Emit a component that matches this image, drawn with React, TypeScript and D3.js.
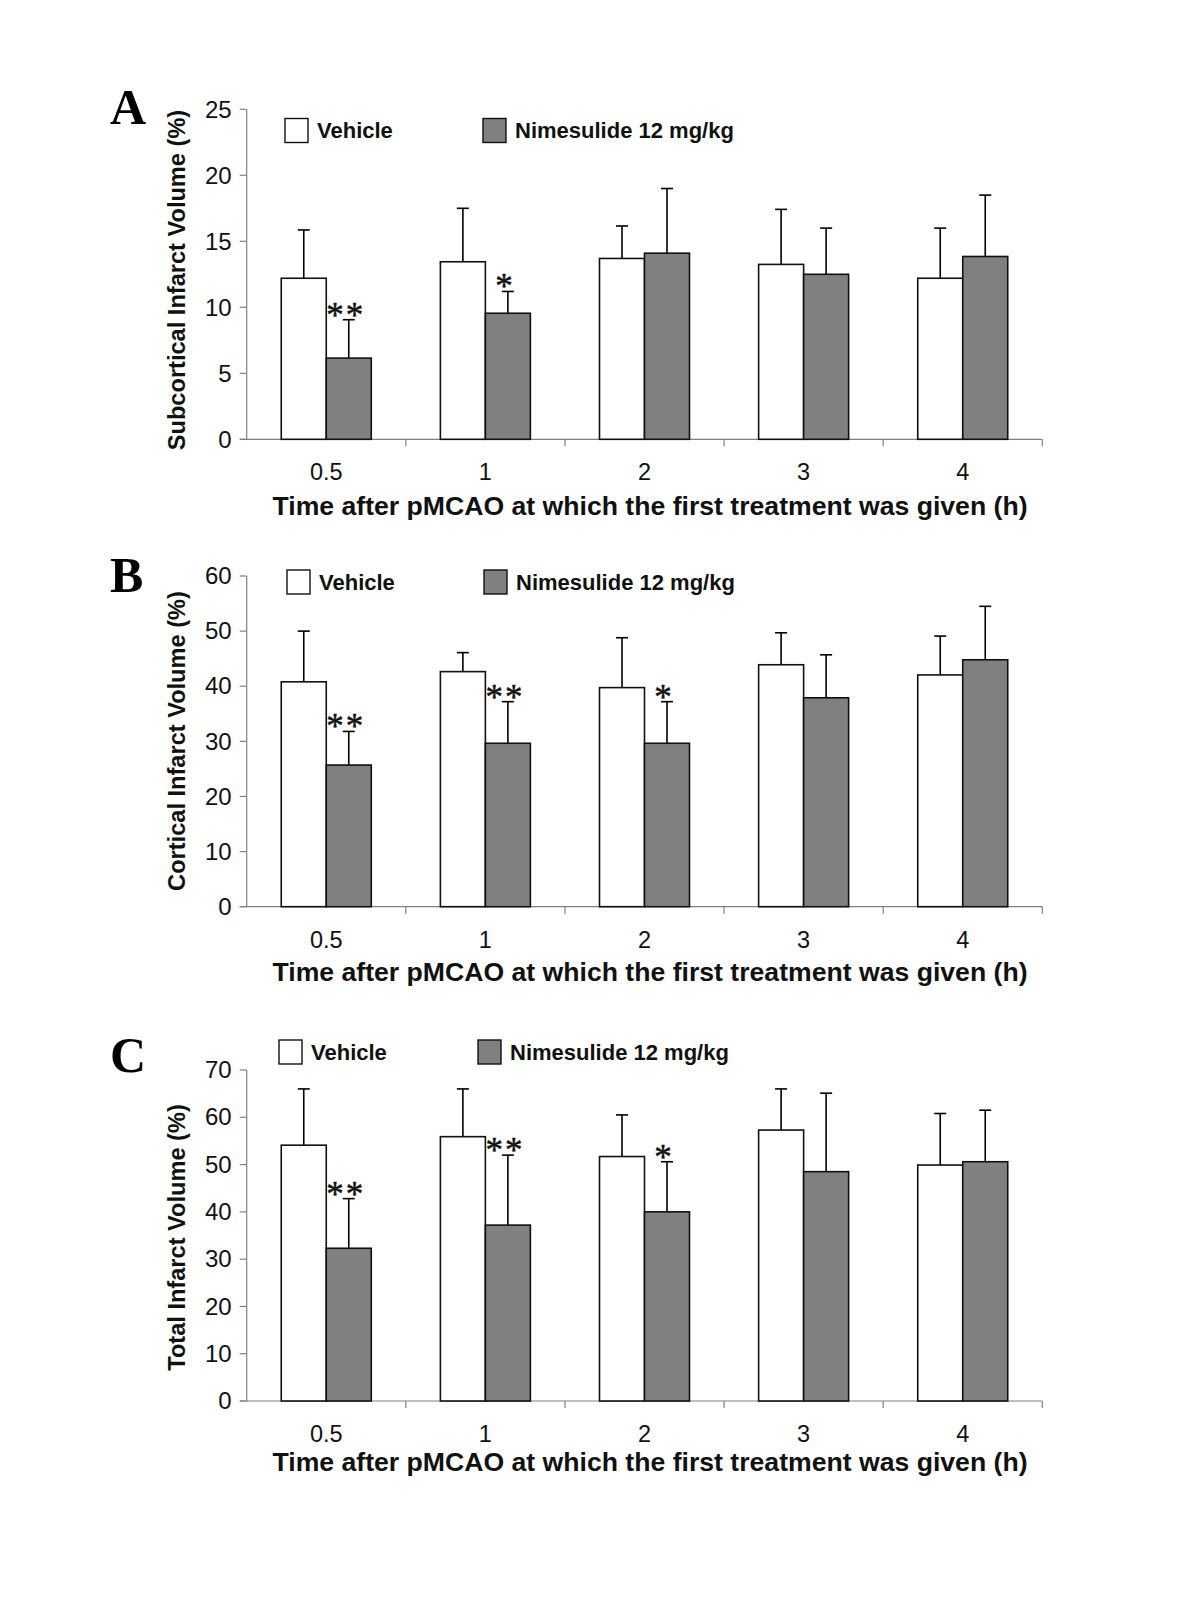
import React from 'react';
import * as d3 from 'd3';

const categories = ['0.5', '1', '2', '3', '4'];
const seriesNames = ['Vehicle', 'Nimesulide 12 mg/kg'];

// Panel A: subcortical
const subVehicle = [12.2, 13.45, 13.7, 13.25, 12.2];
const subVehicleErr = [3.66, 4.05, 2.46, 4.17, 3.8];
const subNim = [6.15, 9.55, 14.1, 12.5, 13.85];
const subNimErr = [2.91, 1.65, 4.9, 3.5, 4.65];
const subSig = ['**', '*', '', '', ''];
const subTicks = [0, 5, 10, 15, 20, 25];

// Panel B: cortical
const corVehicle = [40.8, 42.65, 39.75, 43.9, 42.05];
const corVehicleErr = [9.2, 3.45, 9.05, 5.8, 7.05];
const corNim = [25.7, 29.65, 29.65, 37.9, 44.8];
const corNimErr = [6.1, 7.55, 7.55, 7.8, 9.7];
const corSig = ['**', '**', '*', '', ''];
const corTicks = [0, 10, 20, 30, 40, 50, 60];

// Panel C: total
const totVehicle = [54.1, 55.9, 51.7, 57.3, 49.9];
const totVehicleErr = [11.9, 10.1, 8.8, 8.7, 10.9];
const totNim = [32.3, 37.2, 40.0, 48.5, 50.6];
const totNimErr = [10.5, 14.8, 10.6, 16.6, 10.9];
const totSig = ['**', '**', '*', '', ''];
const totTicks = [0, 10, 20, 30, 40, 50, 60, 70];

const xTitle = 'Time after pMCAO at which the first treatment was given (h)';

const SANS = 'Arial, "Liberation Sans", Helvetica, sans-serif';
const SERIF = '"Times New Roman", "Liberation Serif", serif';
const AXIS = '#808080';
const GRAY = '#808080';

type PanelProps = {
  letter: string;
  yTitle: string;
  vehicle: number[];
  vehicleErr: number[];
  nim: number[];
  nimErr: number[];
  sig: string[];
  ticks: number[];
  top: number;
  bottom: number;
  legendX: [number, number];
  legendY: number;
  letterY: number;
  yTitleY: number;
  xTitleOffset: number;
};

const LEFT = 246.7;
const RIGHT = 1042.3;
const BAR_W = 45;

function Panel(p: PanelProps) {
  const x = d3.scaleBand<string>().domain(categories).range([LEFT, RIGHT]).padding(0);
  const bw = x.bandwidth();
  const inner = d3
    .scaleBand<string>()
    .domain(seriesNames)
    .range([bw / 2 - BAR_W, bw / 2 + BAR_W])
    .padding(0);
  const y = d3
    .scaleLinear()
    .domain([0, p.ticks[p.ticks.length - 1]])
    .range([p.bottom, p.top]);

  const series = [
    { name: seriesNames[0], vals: p.vehicle, errs: p.vehicleErr, fill: '#ffffff' },
    { name: seriesNames[1], vals: p.nim, errs: p.nimErr, fill: GRAY },
  ];

  const boundaries = categories.map((c) => (x(c) as number) + bw);

  return (
    <g>
      <text x={110} y={p.letterY} fontFamily={SERIF} fontWeight="bold" fontSize={50}>
        {p.letter}
      </text>
      {/* y axis */}
      <line x1={LEFT} x2={LEFT} y1={p.top} y2={p.bottom} stroke={AXIS} strokeWidth={1.2} />
      {p.ticks.map((t) => (
        <g key={t}>
          <line x1={LEFT - 7} x2={LEFT} y1={y(t)} y2={y(t)} stroke={AXIS} strokeWidth={1.2} />
          <text
            x={LEFT - 15}
            y={y(t) + 8.2}
            textAnchor="end"
            fontFamily={SANS}
            fontSize={24}
            fill="#111"
          >
            {t}
          </text>
        </g>
      ))}
      <text
        transform={`translate(185, ${p.yTitleY}) rotate(-90)`}
        textAnchor="middle"
        fontFamily={SANS}
        fontWeight="bold"
        fontSize={23.6}
        fill="#111"
      >
        {p.yTitle}
      </text>
      {/* x axis */}
      <line x1={LEFT - 7} x2={RIGHT} y1={p.bottom} y2={p.bottom} stroke={AXIS} strokeWidth={1.2} />
      {boundaries.map((b, i) => (
        <line key={i} x1={b} x2={b} y1={p.bottom} y2={p.bottom + 7} stroke={AXIS} strokeWidth={1.2} />
      ))}
      {categories.map((c) => (
        <text
          key={c}
          x={(x(c) as number) + bw / 2}
          y={p.bottom + 41}
          textAnchor="middle"
          fontFamily={SANS}
          fontSize={23.5}
          fill="#111"
        >
          {c}
        </text>
      ))}
      <text
        x={650}
        y={p.bottom + p.xTitleOffset}
        textAnchor="middle"
        fontFamily={SANS}
        fontWeight="bold"
        fontSize={25}
        textLength={755}
        lengthAdjust="spacingAndGlyphs"
        fill="#111"
      >
        {xTitle}
      </text>
      {/* bars */}
      {series.map((s) =>
        categories.map((c, i) => {
          const bx = (x(c) as number) + (inner(s.name) as number);
          const top = y(s.vals[i]);
          const etop = y(s.vals[i] + s.errs[i]);
          const cx = bx + BAR_W / 2;
          return (
            <g key={s.name + c}>
              <line x1={cx} x2={cx} y1={top} y2={etop} stroke="#000" strokeWidth={1.6} />
              <line x1={cx - 6} x2={cx + 6} y1={etop} y2={etop} stroke="#000" strokeWidth={1.6} />
              <rect
                x={bx}
                y={top}
                width={BAR_W}
                height={p.bottom - top}
                fill={s.fill}
                stroke="#111"
                strokeWidth={1.6}
              />
            </g>
          );
        })
      )}
      {/* significance */}
      {categories.map((c, i) => {
        if (!p.sig[i]) return null;
        const bx = (x(c) as number) + (inner(seriesNames[1]) as number) + BAR_W / 2;
        const etop = y(p.nim[i] + p.nimErr[i]);
        return (
          <text
            key={'s' + c}
            x={bx - 3}
            y={etop + 7}
            textAnchor="middle"
            fontFamily={SERIF}
            fontSize={35}
            letterSpacing={2}
            stroke="#111"
            strokeWidth={0.5}
            fill="#111"
          >
            {p.sig[i]}
          </text>
        );
      })}
      {/* legend */}
      {seriesNames.map((n, i) => (
        <g key={n}>
          <rect
            x={p.legendX[i]}
            y={p.legendY - 12}
            width={23}
            height={24}
            fill={i === 0 ? '#ffffff' : GRAY}
            stroke="#111"
            strokeWidth={1.4}
          />
          <text
            x={p.legendX[i] + 32}
            y={p.legendY + 7.8}
            fontFamily={SANS}
            fontWeight="bold"
            fontSize={22}
            fill="#111"
          >
            {n}
          </text>
        </g>
      ))}
    </g>
  );
}

export default function App() {
  return (
    <svg
      width={1200}
      height={1600}
      style={{ position: 'absolute', left: 0, top: 0, background: '#fff' }}
    >
      <rect x={0} y={0} width={1200} height={1600} fill="#fff" />
      <Panel
        letter="A"
        yTitle="Subcortical Infarct Volume (%)"
        vehicle={subVehicle}
        vehicleErr={subVehicleErr}
        nim={subNim}
        nimErr={subNimErr}
        sig={subSig}
        ticks={subTicks}
        top={109.3}
        bottom={439.3}
        legendX={[285, 483]}
        legendY={130.5}
        letterY={124}
        yTitleY={280}
        xTitleOffset={76}
      />
      <Panel
        letter="B"
        yTitle="Cortical Infarct Volume (%)"
        vehicle={corVehicle}
        vehicleErr={corVehicleErr}
        nim={corNim}
        nimErr={corNimErr}
        sig={corSig}
        ticks={corTicks}
        top={576}
        bottom={906.7}
        legendX={[287, 484]}
        legendY={582}
        letterY={592}
        yTitleY={741}
        xTitleOffset={74}
      />
      <Panel
        letter="C"
        yTitle="Total Infarct Volume (%)"
        vehicle={totVehicle}
        vehicleErr={totVehicleErr}
        nim={totNim}
        nimErr={totNimErr}
        sig={totSig}
        ticks={totTicks}
        top={1070}
        bottom={1401}
        legendX={[279, 478]}
        legendY={1052}
        letterY={1072}
        yTitleY={1237.5}
        xTitleOffset={69.5}
      />
    </svg>
  );
}
